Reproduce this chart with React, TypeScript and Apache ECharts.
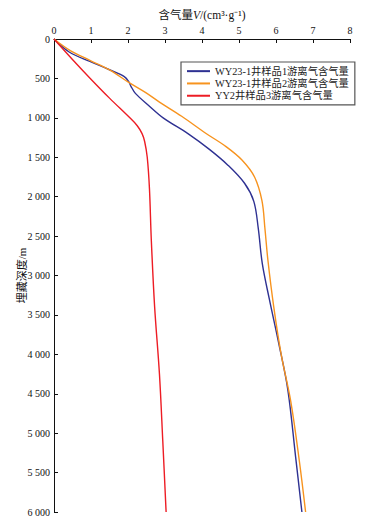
import React, { useEffect, useRef } from "react";
import * as echarts from "echarts";

const seriesNames = [
  "WY23-1井样品1游离气含气量",
  "WY23-1井样品2游离气含气量",
  "YY2井样品3游离气含气量",
];
const seriesColors = ["#2e3192", "#f7931e", "#ed1c24"];

// [gas content, depth]
const sample1: [number, number][] = [
  [0, 0], [0.42, 168], [0.97, 285], [1.5, 390], [1.9, 478], [2.02, 540],
  [2.08, 600], [2.2, 690], [2.55, 840], [2.95, 1000], [3.62, 1200],
  [4.2, 1400], [4.7, 1600], [5.15, 1830], [5.4, 2060], [5.52, 2400],
  [5.63, 2850], [5.82, 3300], [6.07, 3850], [6.32, 4450], [6.53, 5300], [6.7, 6000],
];
const sample2: [number, number][] = [
  [0, 0], [0.45, 150], [0.97, 270], [1.5, 392], [2.02, 550], [2.48, 680],
  [2.85, 800], [3.45, 980], [4.1, 1195], [4.65, 1365], [5.08, 1535],
  [5.42, 1750], [5.62, 2050], [5.7, 2400], [5.78, 2800], [5.94, 3400],
  [6.14, 4000], [6.4, 4600], [6.63, 5350], [6.8, 6000],
];
const sample3: [number, number][] = [
  [0, 0], [0.48, 250], [0.98, 500], [1.5, 750], [2.05, 1000], [2.25, 1100],
  [2.38, 1200], [2.45, 1300], [2.52, 1500], [2.58, 1900], [2.63, 2550],
  [2.72, 3400], [2.85, 4250], [2.94, 5100], [3.03, 6000],
];
const seriesData = [sample1, sample2, sample3];

const xTicks = { min: 0, max: 8, interval: 1 };
const yTicks = { min: 0, max: 6000, interval: 500 };

const serif = "'Liberation Serif', 'Noto Sans CJK SC', serif";

export default function App() {
  const ref = useRef<HTMLDivElement>(null);
  useEffect(() => {
    document.body.style.margin = "0";
    if (!ref.current) return;
    const chart = echarts.init(ref.current, undefined, { renderer: "svg" });
    chart.setOption({
      animation: false,
      backgroundColor: "#ffffff",
      textStyle: { fontFamily: serif },
      grid: { left: 54, top: 39, right: 17, bottom: 14 },
      legend: {
        orient: "vertical",
        left: 181,
        top: 62,
        itemWidth: 23,
        itemHeight: 2,
        itemGap: 2,
        padding: [4, 6, 4, 6],
        borderColor: "#555555",
        borderWidth: 1.2,
        textStyle: { fontFamily: serif, fontSize: 10.3, color: "#222" },
        data: seriesNames.map((n) => ({ name: n, icon: "rect" })),
      },
      xAxis: {
        type: "value",
        position: "top",
        min: xTicks.min,
        max: xTicks.max,
        interval: xTicks.interval,
        name: "{a|含气量}{i|V}{a|/(cm³·g⁻¹)}",
        nameLocation: "middle",
        nameGap: 18,
        nameMoveOverlap: false,
        nameTextStyle: {
          rich: {
            a: { fontFamily: serif, fontSize: 11.5, color: "#111" },
            i: { fontFamily: serif, fontSize: 11.5, fontStyle: "italic", color: "#111" },
          },
        },
        axisLine: { show: true, lineStyle: { color: "#111", width: 1 } },
        axisTick: { show: true, inside: true, length: 4, lineStyle: { color: "#111" } },
        axisLabel: { fontFamily: serif, fontSize: 10, color: "#111", margin: 4 },
        splitLine: { show: false },
      },
      yAxis: {
        type: "value",
        inverse: true,
        min: yTicks.min,
        max: yTicks.max,
        interval: yTicks.interval,
        name: "埋藏深度/m",
        nameLocation: "middle",
        nameGap: 27,
        nameMoveOverlap: false,
        nameRotate: 90,
        nameTextStyle: { fontFamily: serif, fontSize: 11, color: "#111" },
        axisLine: { show: true, lineStyle: { color: "#111", width: 1 } },
        axisTick: { show: true, inside: true, length: 4, lineStyle: { color: "#111" } },
        axisLabel: {
          fontFamily: serif,
          fontSize: 10,
          color: "#111",
          margin: 4,
          formatter: (v: number) =>
            String(v).replace(/\B(?=(\d{3})+(?!\d))/g, " "),
        },
        splitLine: { show: false },
      },
      series: seriesNames.map((name, i) => ({
        name,
        type: "line",
        data: seriesData[i],
        showSymbol: false,
        symbol: "none",
        smooth: 0.35,
        color: seriesColors[i],
        lineStyle: { color: seriesColors[i], width: 1.4 },
      })),
    });
    return () => chart.dispose();
  }, []);
  return <div ref={ref} style={{ width: 367, height: 526 }} />;
}
